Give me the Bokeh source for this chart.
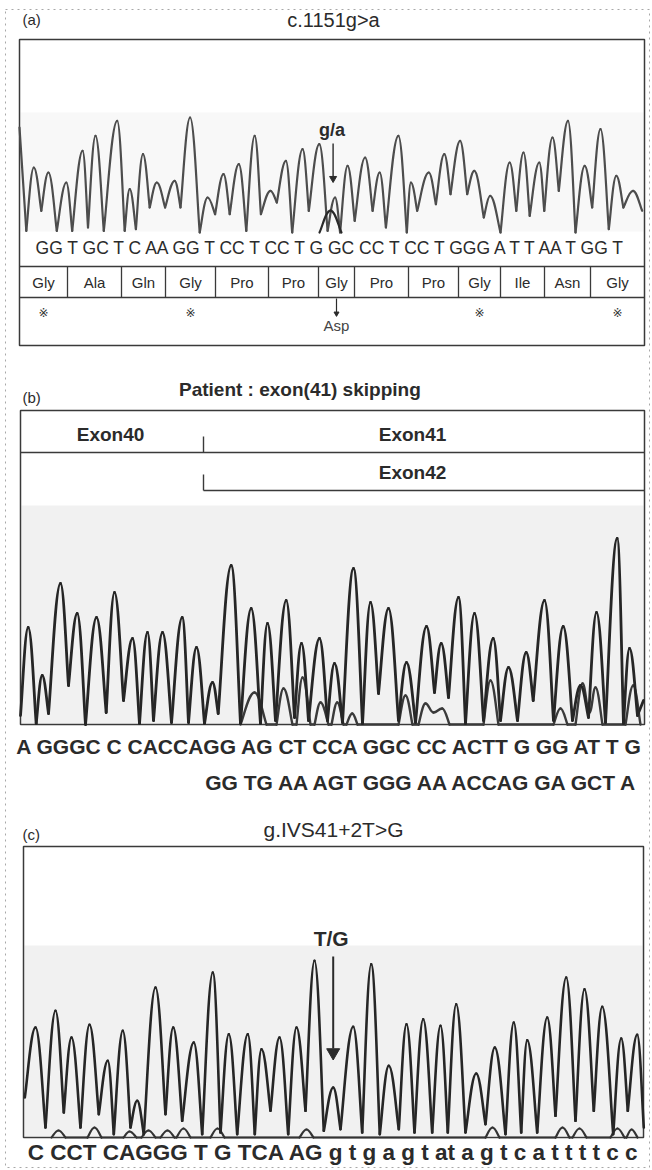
from bokeh.plotting import figure
from bokeh.models import Range1d
from bokeh.core.properties import value
from bokeh.embed import file_html
from bokeh.resources import INLINE

# ---------------- data (scan position, signal height) ----------------
# panel (a): c.1151g>a
a_title = "c.1151g>a"
a_peak_x = [14.3, 28.9, 46.8, 63.1, 76, 97.7, 110.2, 123.5, 137.3, 155.2, 170.6, 188.1, 204,
            219.3, 235.2, 251, 266.4, 283.1, 299.8, 315.6, 328.1, 345.6, 360.2, 378.9, 391.4,
            409.3, 424.8, 440.6, 454.8, 470.6, 490.2, 504, 519.8, 533, 548.5, 565.2, 581,
            596.8, 613.5]
a_peak_h = [65, 60, 50, 81.7, 96.7, 111.7, 43.3, 78.3, 50, 51.7, 115, 35, 58.3, 68.3, 96.7,
            41.7, 71.7, 83.3, 88.3, 35, 66.7, 75, 60, 96.7, 50, 60, 78.3, 91.7, 61.7, 36.7,
            70, 80, 70, 95, 111.7, 66.7, 103.3, 56.7, 41.7]
a_valley_x = [0, 6.8, 21.8, 37.3, 52.7, 68.5, 84.3, 105.2, 116.4, 130.2, 145.6, 161, 180.2,
              195.6, 210.2, 226.8, 241.4, 257.3, 272.7, 289.3, 308.1, 320.6, 335.2, 353.1,
              366.4, 387.3, 397.7, 416.4, 431, 447.7, 464.3, 481, 496.8, 510.2, 524.75,
              539.3, 556, 572.7, 589.3, 603.9, 622.7]
a_valley_h = [105, 1.7, 21.7, 1.7, 1.7, 5, 1.7, 1.7, 3.3, 25, 25, 25, 0, 18.3, 18.3, 1.7,
              18.3, 30, 0, 21.7, 1.7, 0, 11.7, 21.7, 5, 0, 21.7, 28.3, 38.3, 38.3, 15, 0,
              21.7, 16.7, 21.7, 41.7, 0, 25, 3.3, 25, 21.7]
a_second_x = [300, 311, 322]
a_second_h = [0, 22, 0]
a_sequence = "GG T GC T C AA GG T CC T CC T G GC CC T CC T GGG A T T AA T GG T"
a_codon_edges = [0, 48, 102, 146, 196, 249, 299, 335, 389, 439, 481, 525, 571, 625]
a_amino = ["Gly", "Ala", "Gln", "Gly", "Pro", "Pro", "Gly", "Pro", "Pro", "Gly", "Ile", "Asn", "Gly"]
a_marked = [0, 3, 9, 12]
a_mut_base = 19
a_mut_codon = 6
a_mut_aa = "Asp"

# panel (b): exon 41 skipping
b_title = "Patient  : exon(41) skipping"
b_peak_x = [7.7, 21.7, 40, 56.7, 76, 94, 112, 127, 142, 161.7, 176, 192, 210.7, 230.7, 247,
            265.7, 281, 299, 314, 333, 350, 368, 386, 406, 420.7, 438, 454, 472.7, 488, 505.7,
            524, 542.7, 560, 576, 596.7, 609]
b_peak_h = [97, 49, 141, 111, 107, 132, 86, 92, 92, 107, 77, 42, 159, 116, 101, 124, 81, 86,
            61, 156, 122, 116, 62, 98, 81, 127, 111, 86, 57, 72, 124, 98, 39, 112, 186, 76]
b_valley_x = [0, 15.7, 28, 48, 65, 85.7, 103, 119, 133, 151, 168, 184, 197.7, 220, 240, 255,
              274, 288, 307, 322, 342, 358, 378, 395, 414, 428, 445, 463, 480, 497, 512.7,
              533, 552, 568, 585, 603, 617, 623]
b_valley_h = [9, 1, 11, 39, 0, 12, 24, 1, 4, 2, 2, 1, 11, 1, 1, 4, 7, 4, 4, 2, 1, 31, 4, 2,
              32, 27, 1, 4, 4, 4, 24, 4, 4, 7, 2, 1, 9, 24]
b_second_x = [220, 234, 246, 256, 263, 272, 276, 282, 290, 294, 300, 308, 311, 316.7, 323,
              326, 331.7, 337, 378, 385, 392, 398, 405, 413, 421.7, 429, 463, 470, 478, 533,
              540, 547, 555, 562, 569, 575, 582, 605, 612.7, 620]
b_second_h = [0, 32, 0, 0, 36, 0, 0, 47, 0, 0, 22, 0, 0, 22, 0, 0, 11, 0, 0, 29, 0, 0, 21,
              12, 16, 0, 0, 44, 0, 0, 16, 0, 0, 41, 12, 37, 0, 0, 39, 0]
b_exons = ["Exon40", "Exon41", "Exon42"]
b_seq_top = "A GGGC C CACCAGG AG CT CCA GGC CC ACTT G GG AT T G"
b_seq_bottom = "GG TG AA AGT GGG AA ACCAG GA GCT A"

# panel (c): g.IVS41+2T>G
c_title = "g.IVS41+2T>G"
c_peak_x = [12, 32, 48, 66, 84.3, 99.3, 113.7, 132, 149.7, 170.3, 189.3, 205.3, 224.3, 238,
            256, 273, 291, 309.7, 329.7, 347.7, 365.3, 383, 399.7, 417, 432.7, 452.7, 471.3,
            490.3, 503.7, 523.7, 542.7, 561, 578.7, 597.7, 613.7]
c_peak_h = [110, 126.7, 100, 112.7, 76.7, 106.7, 36.7, 150, 110, 95, 165, 103.3, 103.3, 88.3,
            100, 110, 176.7, 50, 110.7, 173.3, 71.7, 113.3, 118.3, 111.7, 133.3, 64, 90, 115,
            97.3, 120, 160, 148.3, 130.7, 99, 102.7]
c_valley_x = [1.3, 22, 40.3, 57, 75.3, 90.3, 107, 120.3, 142, 158.7, 178.7, 197, 213.7, 231.3,
              247, 264.7, 282, 300.3, 317, 338.7, 356.3, 375.3, 391, 408.7, 424.3, 442, 462,
              482, 497.7, 513.7, 532, 552, 570.3, 589.7, 604.3, 620.3]
c_valley_h = [40, 10, 25, 10, 23.3, 3.3, 10, 3.3, 23.3, 16.7, 3.3, 5, 3.3, 3.3, 26.7, 3.3,
              26.7, 6.7, 8.3, 5, 3.3, 8.3, 5, 5, 5, 5, 13.3, 3.3, 5, 5, 21.7, 16.7, 26.7, 3.3,
              26.7, 10]
c_second_x = [28, 35, 42, 64, 71, 78, 100, 106, 113, 118, 125, 132, 137, 144, 151, 153, 160,
              167, 187, 194, 201, 276, 283, 290, 462, 469, 476, 532, 539, 546, 549, 556, 563,
              587, 594, 601, 603, 608, 614]
c_second_h = [0, 7, 0, 0, 10, 0, 0, 6, 0, 0, 7, 0, 0, 7, 0, 0, 9, 0, 0, 9, 0, 0, 8, 0, 0,
              10, 0, 0, 10, 0, 0, 9, 0, 0, 9, 0, 0, 8, 0]
c_mut_base = 17
c_sequence = "C CCT CAGGG T G TCA AG g t g a g t at a g t c a t t t t c c"

# ---------------- page layout ----------------
W, H = 652, 1170
FONT = "Liberation Sans"
INK = "#2b2b2b"
BOX = "#3a3a3a"

p = figure(width=W, height=H, x_range=Range1d(0, W), y_range=Range1d(H, 0),
           output_backend="svg", toolbar_location=None, min_border=0,
           x_axis_location=None, y_axis_location=None,
           background_fill_color="white", border_fill_color="white",
           outline_line_color=None)
p.grid.visible = False

# each panel: scan 0 at the box's left edge, signal 0 at the baseline, 1 unit = 1 px
panels = {"a": (19, 232), "b": (20, 724), "c": (23, 1137)}
p.extra_x_ranges = {k: Range1d(-l, W - l) for k, (l, b) in panels.items()}
p.extra_y_ranges = {k: Range1d(-(H - b), b) for k, (l, b) in panels.items()}


def smooth(xs, hs, kinds, k_top=0.42, k_low=0.25):
    """bezier pieces between successive trace vertices (rounded tops, sharp valleys)"""
    pts = sorted(zip(xs, hs, kinds))
    seg = dict(x0=[], y0=[], x1=[], y1=[], cx0=[], cy0=[], cx1=[], cy1=[])
    for (xa, ya, ta), (xb, yb, tb) in zip(pts[:-1], pts[1:]):
        dx, dy = xb - xa, yb - ya
        c0 = (xa + k_top * dx, ya) if ta else (xa + k_low * dx, ya + k_low * dy)
        c1 = (xb - k_top * dx, yb) if tb else (xb - k_low * dx, yb - k_low * dy)
        for key, v in zip(("x0", "y0", "x1", "y1", "cx0", "cy0", "cx1", "cy1"),
                          (xa, ya, xb, yb, c0[0], c0[1], c1[0], c1[1])):
            seg[key].append(v)
    return seg


def draw_trace(name, px, ph, vx, vh, color, width):
    seg = smooth(list(px) + list(vx), list(ph) + list(vh), [1] * len(px) + [0] * len(vx))
    p.bezier(**seg, x_range_name=name, y_range_name=name, line_color=color,
             line_width=width, line_cap="round")


def draw_bumps(name, xs, hs, color, width):
    seg = smooth(xs, hs, [1 if h > 0 else 0 for h in hs])
    p.bezier(**seg, x_range_name=name, y_range_name=name, line_color=color,
             line_width=width, line_cap="round")


def label(x, y, s, size, bold=False, align="center", color=INK, **kw):
    p.text(x=[x], y=[y], text=[s], text_font=value(FONT), text_font_size=f"{size}px",
           text_font_style="bold" if bold else "normal", text_align=align,
           text_baseline="middle", text_color=color, **kw)


def box(l, r, t, b, **kw):
    p.quad(left=[l], right=[r], top=[t], bottom=[b], **kw)


# dotted page border
box(5, 649, 9, 1167, fill_color=None, line_color="#a8a8a8", line_dash="dotted", line_width=1)

# light speckled backgrounds of the traces
box(20, 643, 112, 231, fill_color="#f8f8f8", line_color=None)
box(21, 643, 505, 723, fill_color="#f1f1f1", line_color=None)
box(24, 642, 945, 1136, fill_color="#f1f1f1", line_color=None)

# ---------- panel (a) ----------
label(22, 19, "(a)", 15, align="left")
label(333, 19, a_title, 20)
box(19, 644, 39, 345, fill_color=None, line_color=BOX, line_width=1.5)

draw_trace("a", a_peak_x, a_peak_h, a_valley_x, a_valley_h, "#4d4d4d", 2.2)
draw_bumps("a", a_second_x, a_second_h, "#2a2a2a", 2.2)

mx = a_peak_x[a_mut_base]
label(mx - 3, 129, "g/a", 18, bold=True, x_range_name="a")
p.segment(x0=[mx - 2], x1=[mx - 2], y0=[143], y1=[176], x_range_name="a", line_color=INK,
          line_width=1.4)
p.scatter(x=[mx - 2], y=[178], marker="inverted_triangle", size=7, x_range_name="a",
          fill_color=INK, line_color=INK)

label(335, 247, a_sequence, 17.5)

p.segment(x0=[19, 19], x1=[644, 644], y0=[266, 297], y1=[266, 297],
          line_color=BOX, line_width=1.3)
inner = a_codon_edges[1:-1]
p.segment(x0=inner, x1=inner, y0=[266] * len(inner), y1=[297] * len(inner),
          x_range_name="a", line_color=BOX, line_width=1.3)
mids = [(a_codon_edges[i] + a_codon_edges[i + 1]) / 2 for i in range(len(a_amino))]
p.text(x=mids, y=[282] * len(mids), text=a_amino, x_range_name="a",
       text_font=value(FONT), text_font_size="15px", text_align="center",
       text_baseline="middle", text_color=INK)
p.text(x=[mids[i] for i in a_marked], y=[312] * len(a_marked),
       text=["\u203b"] * len(a_marked), x_range_name="a", text_font=value("DejaVu Sans"),
       text_font_size="12px", text_align="center", text_baseline="middle", text_color="#333")
cm = mids[a_mut_codon]
p.segment(x0=[cm], x1=[cm], y0=[298], y1=[312], x_range_name="a", line_color=INK,
          line_width=1.2)
p.scatter(x=[cm], y=[313], marker="inverted_triangle", size=5, x_range_name="a",
          fill_color=INK, line_color=INK)
label(cm, 325, a_mut_aa, 15, x_range_name="a", color="#444")

# ---------- panel (b) ----------
label(22, 397, "(b)", 15, align="left")
label(302, 389, b_title, 19, bold=True)
box(20, 644, 410, 724, fill_color=None, line_color=BOX, line_width=1.5)
label(110, 434, b_exons[0], 19, bold=True)
label(412, 434, b_exons[1], 19, bold=True)
label(412, 472, b_exons[2], 19, bold=True)
p.segment(x0=[203, 20, 203, 203], x1=[203, 644, 203, 644],
          y0=[436, 452, 474, 490], y1=[452, 452, 490, 490],
          line_color=BOX, line_width=1.4)

draw_bumps("b", b_second_x, b_second_h, "#3a3a3a", 2.4)
draw_trace("b", b_peak_x, b_peak_h, b_valley_x, b_valley_h, "#262626", 2.8)
label(330, 746, b_seq_top, 21, bold=True)
label(641, 782, b_seq_bottom, 21, bold=True, align="right")

# ---------- panel (c) ----------
label(22, 834, "(c)", 15, align="left")
label(333, 829, c_title, 21)
box(23, 643, 846, 1137, fill_color=None, line_color=BOX, line_width=1.5)
draw_bumps("c", c_second_x, c_second_h, "#333333", 2.2)
draw_trace("c", c_peak_x, c_peak_h, c_valley_x, c_valley_h, "#262626", 2.6)
tx = c_peak_x[c_mut_base]
label(tx - 2, 938, "T/G", 21, bold=True, x_range_name="c")
p.segment(x0=[tx], x1=[tx], y0=[956], y1=[1048], x_range_name="c", line_color=INK,
          line_width=2)
p.scatter(x=[tx], y=[1052], marker="inverted_triangle", size=13, x_range_name="c",
          fill_color=INK, line_color=INK)
label(333, 1152, c_sequence, 22.5, bold=True)

open("out.html", "w").write(file_html(p, INLINE))
